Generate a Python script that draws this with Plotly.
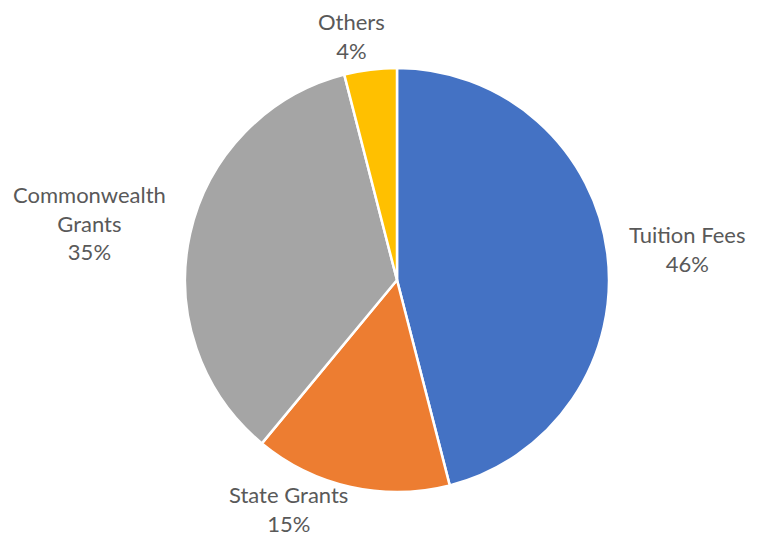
import plotly.graph_objects as go

categories = ["Tuition Fees", "State Grants", "Commonwealth<br>Grants", "Others"]
values = [46, 15, 35, 4]
colors = ["#4472C4", "#ED7D31", "#A5A5A5", "#FFC000"]

W, H = 761, 536
# page body has an 8px margin in the browser; compensate
off = 8
cx, cy, r = 397 - off, 280 - off, 212

# label block centres (pixels in the picture)
label_pos = [(687, 249), (288, 509), (89, 223), (351, 36)]

fig = go.Figure(go.Pie(
    labels=categories,
    values=values,
    sort=False,
    direction="clockwise",
    rotation=0,
    marker=dict(colors=colors, line=dict(color="white", width=2.5)),
    textinfo="none",
    domain=dict(x=[(cx - r) / W, (cx + r) / W], y=[(H - cy - r) / H, (H - cy + r) / H]),
    showlegend=False,
    hoverinfo="label+percent",
))

total = sum(values)
for lab, v, (px, py) in zip(categories, values, label_pos):
    fig.add_annotation(
        x=(px - off) / W, y=1 - (py - off) / H,
        xref="paper", yref="paper",
        xanchor="center", yanchor="middle",
        text=f"{lab}<br>{round(100 * v / total)}%",
        showarrow=False, align="center",
        font=dict(family="Lato, Open Sans, sans-serif", size=22, color="#595959"),
    )

fig.update_layout(
    width=W, height=H,
    margin=dict(l=0, r=0, t=0, b=0),
    paper_bgcolor="white",
    plot_bgcolor="white",
)
fig.write_html("out.html")
